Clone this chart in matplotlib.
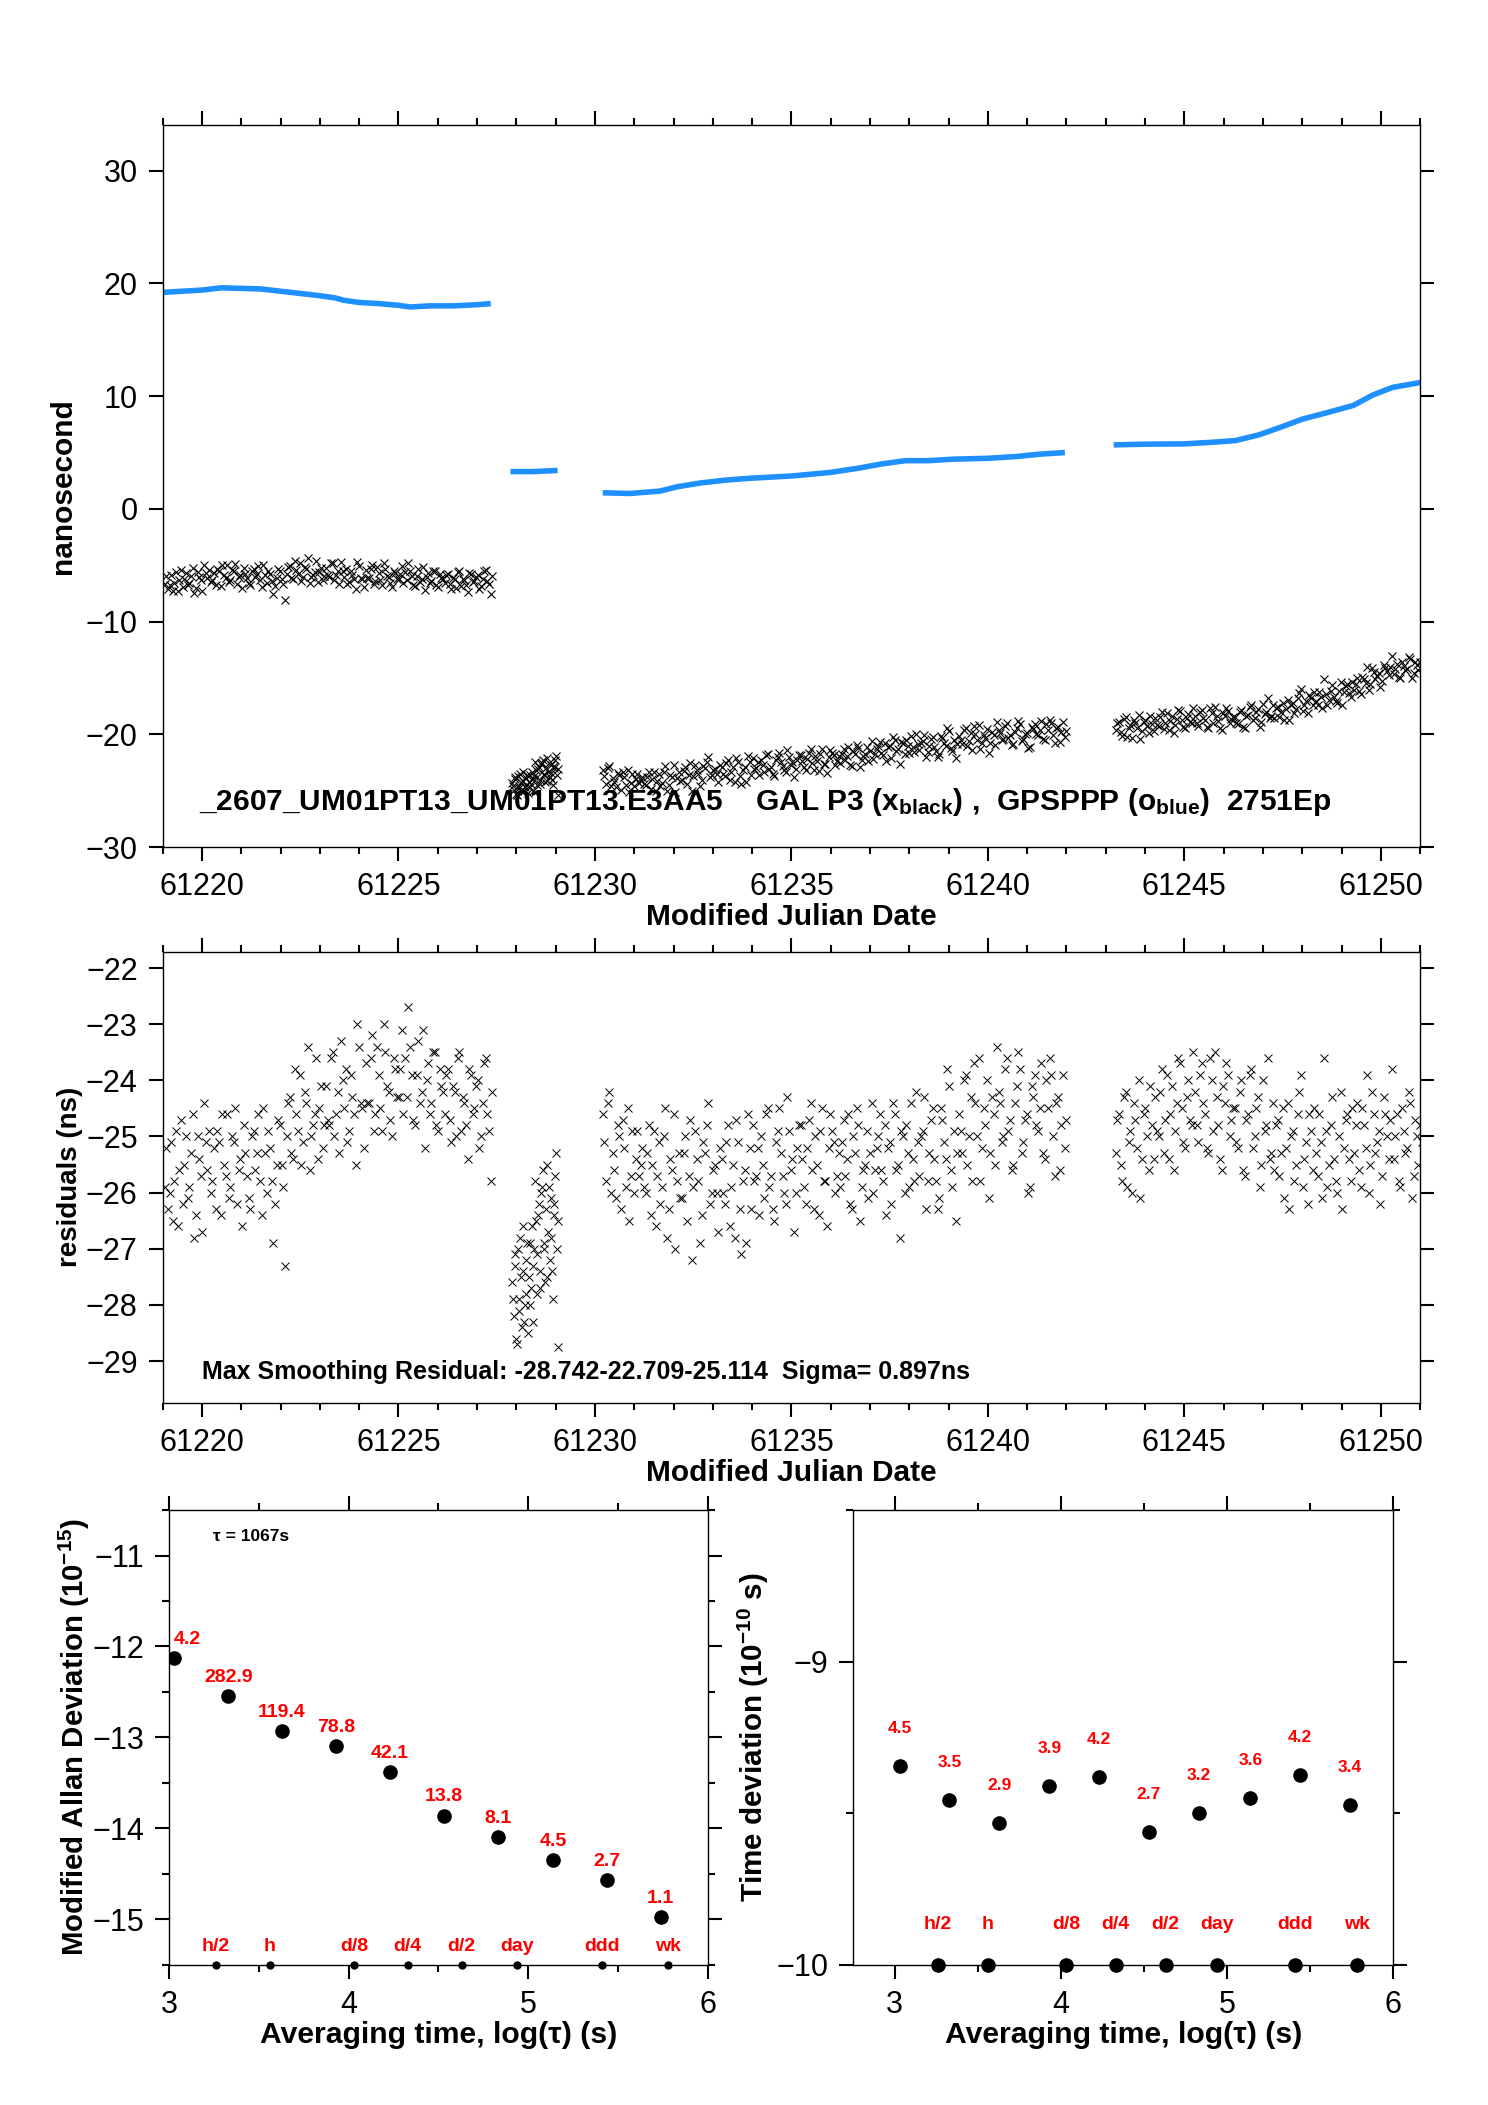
import numpy as np
import matplotlib
matplotlib.use("Agg")
import matplotlib.pyplot as plt
from matplotlib.ticker import MultipleLocator

# ---- GPSPPP (blue), read at knots along each segment ----
blue_t_a = [61219.03, 61220.0, 61220.5, 61221.0, 61221.5, 61222.0, 61222.5, 61223.0, 61223.4,
            61223.6, 61224.0, 61224.5, 61225.0, 61225.3, 61225.8, 61226.4, 61227.0, 61227.35]
blue_v_a = [19.2, 19.4, 19.6, 19.55, 19.5, 19.3, 19.1, 18.9, 18.7,
            18.5, 18.3, 18.2, 18.05, 17.9, 18.0, 18.0, 18.1, 18.2]
blue_t_b = [61227.85, 61228.4, 61229.05]
blue_v_b = [3.3, 3.3, 3.4]
blue_t_c = [61230.2, 61230.9, 61231.65, 61232.1, 61232.7, 61233.35, 61233.9, 61235.0, 61236.0,
            61236.7, 61237.3, 61237.9, 61238.5, 61239.1, 61240.0, 61240.7, 61241.3, 61241.96]
blue_v_c = [1.42, 1.36, 1.57, 1.96, 2.3, 2.55, 2.7, 2.91, 3.23,
            3.6, 3.98, 4.27, 4.27, 4.4, 4.48, 4.63, 4.84, 4.99]
blue_t_d = [61243.2, 61244.0, 61245.0, 61245.7, 61246.3, 61246.9, 61247.5, 61248.0, 61248.6,
            61249.3, 61249.8, 61250.3, 61251.0]
blue_v_d = [5.67, 5.73, 5.76, 5.9, 6.05, 6.56, 7.3, 7.95, 8.5, 9.17, 10.1, 10.77, 11.2]

# ---- residuals GAL P3 - GPSPPP (ns), per segment (two interleaved reads) ----
span_a = (61219.05, 61227.35)
resid_a = [-25.9, -26.3, -25.1, -25.8, -26.6, -24.7, -25.5, -26.1, -25.3, -26.8, -25.0, -25.7, -24.4,
           -25.6, -26.0, -25.2, -24.9, -26.4, -25.5, -24.6, -25.9, -25.1, -26.2, -25.4, -24.8,
           -25.7, -26.3, -24.9, -25.3, -25.8, -24.5, -26.0, -25.2, -26.9, -25.5, -24.8, -25.9,
           -25.0, -24.3, -25.4, -24.6, -23.9, -25.1, -24.4, -25.6, -24.8, -23.6, -24.5, -25.2,
           -24.1, -24.8, -23.5, -24.6, -25.3, -24.0, -23.8, -24.9, -24.3, -25.5, -23.4, -24.5,
           -23.7, -24.4, -23.2, -24.6, -23.9, -24.9, -23.5, -24.2, -25.0, -23.8, -24.3, -23.1,
           -23.6, -22.7, -23.9, -24.8, -23.3, -24.2, -25.2, -23.7, -24.4, -23.5, -24.9, -24.1,
           -24.6, -23.8, -25.1, -24.2, -23.6, -24.9, -24.4, -25.4, -23.9, -24.5, -24.0, -25.0,
           -23.7, -24.6, -25.8]
resid_a2 = [-25.2, -26.0, -26.5, -24.9, -25.6, -26.2, -25.0, -25.9, -24.6, -26.4, -25.4, -26.7, -25.1,
            -24.9, -25.8, -26.3, -25.1, -24.6, -25.7, -26.1, -25.0, -24.5, -25.6, -26.6, -25.3,
            -26.1, -25.0, -25.6, -24.6, -26.4, -25.3, -24.9, -25.8, -26.2, -24.7, -25.5, -27.3,
            -24.4, -25.3, -23.8, -24.9, -25.5, -24.2, -23.4, -25.0, -24.6, -25.4, -24.1, -24.8,
            -24.7, -23.6, -25.0, -24.2, -23.3, -24.5, -25.1, -23.9, -24.6, -23.0, -24.4, -25.2,
            -24.4, -23.6, -24.9, -23.4, -24.5, -23.0, -24.1, -24.7, -23.6, -24.3, -23.8, -24.6,
            -24.3, -23.4, -24.7, -23.9, -24.4, -23.1, -24.0, -24.6, -23.5, -24.8, -23.8, -24.2,
            -23.9, -24.7, -24.1, -25.0, -23.5, -24.3, -24.8, -23.8, -24.6, -24.1, -25.2, -24.4,
            -23.6, -24.9, -24.2]
span_b = (61227.9, 61229.05)
resid_b = [-27.6, -28.2, -27.1, -28.7, -27.9, -26.8, -28.4, -27.4, -28.0, -27.2, -28.5, -26.9,
           -27.7, -28.3, -27.0, -26.5, -27.8, -26.2, -27.4, -25.9, -26.9, -27.6, -25.5, -26.7,
           -27.2, -26.1, -27.9, -26.4, -25.3, -28.74]
resid_b2 = [-27.9, -27.3, -28.6, -27.0, -28.1, -27.5, -26.6, -28.3, -27.8, -26.9, -27.5, -28.0,
            -26.6, -27.3, -25.8, -27.1, -26.4, -27.7, -26.0, -25.6, -27.0, -26.3, -27.5, -25.9,
            -26.8, -27.4, -26.2, -25.7, -27.0, -26.5]
span_c = (61230.2, 61241.95)
resid_c = [-24.6, -25.8, -24.2, -25.3, -26.1, -25.0, -24.7, -25.9, -26.5, -24.9, -25.4, -25.7,
           -25.2, -26.0, -24.8, -25.5, -26.6, -25.1, -25.9, -24.5, -26.3, -25.6, -27.0, -25.3,
           -26.1, -25.0, -25.7, -27.2, -24.9, -25.8, -26.4, -25.3, -24.4, -26.0, -25.5, -26.7,
           -25.4, -26.2, -24.8, -25.9, -26.8, -25.1, -27.1, -25.6, -24.6, -26.3, -25.8, -25.2,
           -25.0, -26.1, -24.5, -25.7, -26.5, -24.9, -25.3, -26.0, -24.3, -25.6, -26.7, -25.2,
           -24.8, -25.9, -25.2, -24.4, -26.3, -25.5, -24.9, -25.8, -26.6, -24.6, -25.1, -25.7,
           -25.9, -24.7, -25.4, -26.2, -25.0, -24.5, -26.5, -25.6, -24.9, -25.3, -26.0, -25.2,
           -24.6, -25.8, -26.4, -25.1, -24.4, -25.6, -26.8, -25.0, -24.8, -25.9, -25.4, -24.2,
           -25.7, -24.9, -26.3, -25.3, -24.5, -25.8, -26.1, -24.7, -25.4, -24.1, -25.9, -26.5,
           -24.6, -25.3, -23.9, -25.0, -25.8, -24.4, -23.6, -25.2, -24.8, -26.1, -24.3, -25.5,
           -24.2, -25.1, -23.8, -24.9, -25.6, -24.4, -23.5, -25.3, -24.7, -26.0, -24.1, -23.9,
           -24.9, -23.7, -25.4, -24.5, -23.9, -25.7, -24.3, -24.8, -25.2]
resid_c2 = [-25.1, -24.4, -26.0, -25.6, -24.8, -26.3, -25.2, -24.5, -25.7, -26.0, -24.9, -25.5,
            -25.9, -25.3, -26.4, -24.9, -25.7, -26.2, -25.0, -26.8, -25.4, -24.6, -25.8, -26.1,
            -25.3, -26.5, -24.7, -25.9, -25.4, -26.9, -25.1, -24.8, -26.2, -25.6, -26.0, -25.2,
            -26.0, -25.1, -26.6, -25.5, -24.7, -26.3, -25.8, -26.9, -25.2, -24.8, -25.7, -26.4,
            -25.5, -24.6, -25.9, -26.3, -25.1, -24.5, -25.7, -26.2, -24.9, -25.4, -26.0, -24.8,
            -25.4, -26.2, -24.7, -25.6, -25.0, -26.4, -24.5, -25.8, -25.2, -24.9, -26.0, -25.3,
            -25.1, -25.7, -24.6, -26.3, -25.3, -24.8, -25.9, -25.5, -26.1, -24.4, -25.6, -25.0,
            -25.6, -24.8, -25.2, -26.2, -24.6, -25.5, -24.9, -26.0, -25.3, -24.4, -25.8, -25.1,
            -25.0, -24.3, -25.8, -24.7, -25.4, -26.3, -24.5, -25.1, -23.8, -25.6, -24.9, -25.3,
            -24.9, -24.0, -25.5, -24.3, -23.7, -25.0, -25.8, -24.5, -24.0, -25.3, -24.6, -23.4,
            -24.4, -25.0, -23.6, -24.7, -25.5, -24.1, -23.8, -25.1, -24.6, -25.9, -24.3, -24.8,
            -24.5, -25.3, -24.0, -23.6, -25.0, -24.4, -25.6, -23.9, -24.7]
span_d = (61243.25, 61251.0)
resid_d = [-25.3, -24.6, -25.8, -24.2, -25.1, -26.0, -24.7, -24.0, -25.4, -24.5, -25.6, -24.8,
           -24.3, -25.0, -23.8, -24.7, -25.4, -24.1, -24.9, -23.6, -24.5, -25.2, -24.0, -24.8,
           -24.2, -25.1, -23.7, -24.6, -25.3, -24.0, -23.5, -24.8, -25.6, -24.4, -23.9, -24.7,
           -24.5, -25.2, -24.0, -25.7, -24.6, -23.8, -25.0, -24.3, -25.5, -24.9, -23.6, -25.3,
           -25.6, -24.7, -25.3, -26.1, -24.4, -25.0, -25.8, -24.6, -23.9, -25.4, -26.2, -24.9,
           -24.5, -25.7, -25.1, -23.6, -25.9, -24.8, -25.4, -26.0, -24.2, -25.2, -24.6, -25.8,
           -25.3, -24.4, -25.9, -24.8, -23.9, -25.5, -24.6, -25.1, -26.2, -24.3, -25.0, -24.7,
           -25.4, -24.6, -25.9, -24.9, -25.2, -24.4, -25.7, -25.0, -24.8]
resid_d2 = [-24.7, -25.5, -24.3, -25.9, -24.9, -24.4, -25.2, -26.1, -24.6, -25.0, -24.1, -25.4,
            -24.9, -24.2, -25.3, -23.9, -24.6, -25.6, -24.4, -23.7, -25.1, -24.3, -24.7, -23.5,
            -24.8, -23.9, -24.4, -25.2, -23.6, -24.9, -24.3, -25.4, -24.1, -23.7, -25.0, -24.5,
            -25.1, -24.2, -25.6, -24.7, -23.9, -25.2, -24.5, -25.9, -24.0, -24.8, -25.4, -24.4,
            -24.8, -25.7, -24.5, -25.2, -26.3, -24.9, -25.5, -24.2, -25.9, -25.1, -24.6, -25.6,
            -25.3, -24.6, -26.1, -24.9, -25.5, -24.3, -25.8, -25.0, -26.3, -24.7, -25.4, -24.5,
            -24.8, -25.6, -24.5, -25.2, -26.0, -24.2, -25.3, -24.9, -25.7, -24.6, -25.4, -23.8,
            -25.0, -25.8, -24.5, -25.3, -24.2, -26.1, -24.7, -25.5, -25.1]

# ---- stability panels ----
log_tau = [3.03, 3.33, 3.63, 3.93, 4.23, 4.53, 4.83, 5.14, 5.44, 5.74]
mdev = [-12.13, -12.55, -12.93, -13.10, -13.38, -13.86, -14.10, -14.35, -14.57, -14.98]
mdev_lab = ["4.2", "282.9", "119.4", "78.8", "42.1", "13.8", "8.1", "4.5", "2.7", "1.1"]
tdev = [-9.345, -9.458, -9.532, -9.411, -9.382, -9.564, -9.498, -9.449, -9.374, -9.473]
tdev_lab = ["4.5", "3.5", "2.9", "3.9", "4.2", "2.7", "3.2", "3.6", "4.2", "3.4"]
mark_x = [3.26, 3.56, 4.03, 4.33, 4.63, 4.94, 5.41, 5.78]
mark_lab = ["h/2", "h", "d/8", "d/4", "d/2", "day", "ddd", "wk"]

plt.rcParams["font.family"] = ["Liberation Sans", "DejaVu Sans"]
plt.rcParams["mathtext.default"] = "regular"

BLUE = "#1e90ff"
RED = "#ff0000"


def style(ax, labelsize=22):
    ax.tick_params(which="both", direction="out", top=True, right=True,
                   width=1.5, labelsize=labelsize, pad=8)
    ax.tick_params(which="major", length=10)
    ax.tick_params(which="minor", length=5)
    for s in ax.spines.values():
        s.set_linewidth(1.0)


fig = plt.figure(figsize=(14.88, 21.05), dpi=100)

segments = [(blue_t_a, blue_v_a, span_a, [resid_a, resid_a2]),
            (blue_t_b, blue_v_b, span_b, [resid_b, resid_b2]),
            (blue_t_c, blue_v_c, span_c, [resid_c, resid_c2]),
            (blue_t_d, blue_v_d, span_d, [resid_d, resid_d2])]

# ---------------- top panel ----------------
ax1 = fig.add_axes([0.1093, 0.5976, 0.8451, 0.3428])
for bt, bv, span, reads in segments:
    for k, res in enumerate(reads):
        t = np.linspace(span[0], span[1], len(res))
        if k == 1:
            t = t + 0.5 * (t[1] - t[0])
        black = np.interp(t, bt, bv) + np.array(res)
        ax1.plot(t, black, "x", color="black", ms=6, mew=0.8)
    ax1.plot(bt, bv, "-", color=BLUE, lw=4, solid_capstyle="butt")
ax1.set_xlim(61219, 61251)
ax1.set_ylim(-30, 34)
ax1.xaxis.set_major_locator(MultipleLocator(5))
ax1.xaxis.set_minor_locator(MultipleLocator(1))
ax1.yaxis.set_major_locator(MultipleLocator(10))
ax1.xaxis.get_major_formatter().set_useOffset(False)
style(ax1)
ax1.set_ylabel("nanosecond", fontsize=21.5, fontweight="bold", labelpad=6)
ax1.set_xlabel("Modified Julian Date", fontsize=21.5, fontweight="bold", labelpad=1)
ax1.text(61219.93, -26.0,
         "_2607_UM01PT13_UM01PT13.E3AA5    GAL P3 (x$_{black}$) ,  GPSPPP (o$_{blue}$)  2751Ep",
         fontsize=21.5, fontweight="bold", va="center")

# ---------------- residual panel ----------------
ax2 = fig.add_axes([0.1093, 0.3336, 0.8451, 0.2143])
for bt, bv, span, reads in segments:
    for k, res in enumerate(reads):
        t = np.linspace(span[0], span[1], len(res))
        if k == 1:
            t = t + 0.5 * (t[1] - t[0])
        ax2.plot(t, res, "x", color="black", ms=5.5, mew=0.7)
ax2.set_xlim(61219, 61251)
ax2.set_ylim(-29.742, -21.709)
ax2.xaxis.set_major_locator(MultipleLocator(5))
ax2.xaxis.set_minor_locator(MultipleLocator(1))
ax2.yaxis.set_major_locator(MultipleLocator(1))
ax2.xaxis.get_major_formatter().set_useOffset(False)
style(ax2)
ax2.set_ylabel("residuals (ns)", fontsize=20, fontweight="bold", labelpad=2)
ax2.set_xlabel("Modified Julian Date", fontsize=21.5, fontweight="bold", labelpad=1)
ax2.text(61220.0, -29.19, "Max Smoothing Residual: -28.742-22.709-25.114  Sigma= 0.897ns",
         fontsize=18, fontweight="bold", va="center")

# ---------------- modified Allan deviation ----------------
ax3 = fig.add_axes([0.1136, 0.0667, 0.3619, 0.2159])
ax3.plot(log_tau, mdev, "o", color="black", ms=9.5)
for i, (x, y, lab) in enumerate(zip(log_tau, mdev, mdev_lab)):
    dx = 9 if i == 0 else 0
    ax3.annotate(lab, (x, y), xytext=(dx, 13.5), textcoords="offset points", ha="center",
                 va="center", color=RED, fontsize=14, fontweight="bold", annotation_clip=False)
ax3.plot(mark_x, [-15.5] * len(mark_x), "o", color="black", ms=5, clip_on=False)
for x, lab in zip(mark_x, mark_lab):
    ax3.annotate(lab, (x, -15.5), xytext=(0, 13), textcoords="offset points", ha="center",
                 va="center", color=RED, fontsize=14, fontweight="bold")
ax3.text(3.245, -10.785, "τ = 1067s", fontsize=12.5, fontweight="bold", va="center")
ax3.set_xlim(3, 6)
ax3.set_ylim(-15.5, -10.5)
ax3.xaxis.set_major_locator(MultipleLocator(1))
ax3.xaxis.set_minor_locator(MultipleLocator(0.5))
ax3.yaxis.set_major_locator(MultipleLocator(1))
ax3.yaxis.set_minor_locator(MultipleLocator(0.5))
style(ax3)
ax3.set_ylabel("Modified Allan Deviation (10$^{-15}$)", fontsize=21.2, fontweight="bold",
               labelpad=0)
ax3.set_xlabel("Averaging time, log(τ) (s)", fontsize=21.7, fontweight="bold", labelpad=1)

# ---------------- time deviation ----------------
ax4 = fig.add_axes([0.5733, 0.0667, 0.3631, 0.2159])
ax4.plot(log_tau, tdev, "o", color="black", ms=9.5)
for x, y, lab in zip(log_tau, tdev, tdev_lab):
    ax4.annotate(lab, (x, y), xytext=(0, 27), textcoords="offset points", ha="center",
                 va="center", color=RED, fontsize=12.5, fontweight="bold")
ax4.plot(mark_x, [-10] * len(mark_x), "o", color="black", ms=9.5, clip_on=False)
for x, lab in zip(mark_x, mark_lab):
    ax4.annotate(lab, (x, -10), xytext=(0, 29), textcoords="offset points", ha="center",
                 va="center", color=RED, fontsize=14, fontweight="bold")
ax4.set_xlim(2.75, 6)
ax4.set_ylim(-10, -8.5)
ax4.xaxis.set_major_locator(MultipleLocator(1))
ax4.xaxis.set_minor_locator(MultipleLocator(0.5))
ax4.yaxis.set_major_locator(MultipleLocator(1))
ax4.yaxis.set_minor_locator(MultipleLocator(0.5))
style(ax4)
ax4.set_ylabel("Time deviation (10$^{-10}$ s)", fontsize=21.3, fontweight="bold")
ax4.set_xlabel("Averaging time, log(τ) (s)", fontsize=21.7, fontweight="bold", labelpad=1)

fig.savefig("out.png", dpi=100)
